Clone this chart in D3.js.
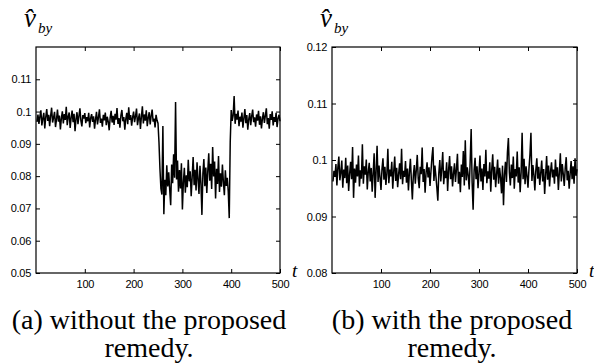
<!DOCTYPE html>
<html>
<head>
<meta charset="utf-8">
<script src="https://cdn.jsdelivr.net/npm/d3@7"></script>
<style>
  body { margin: 0; background: #fff; }
  .tick text { font-family: "Liberation Sans", Arial, sans-serif; font-size: 11px; fill: #000; letter-spacing: -0.3px; }
  .tick line { stroke: #000; }
</style>
</head>
<body>
<script>
// sample spacing of the estimator (t = 2, 4, ..., 500)
var tStep = 2;

// (a) without the proposed remedy: v_by estimate
var vbyWithout = [
  0.0968, 0.0991, 0.0962, 0.0985, 0.1004, 0.0957, 0.0979, 0.0996, 0.0948, 0.0983, 0.1008, 0.0971, 0.0990, 0.0955, 0.0987, 0.1012, 0.0966, 0.0981, 0.0999, 0.0952, 0.0976, 0.1006, 0.0969, 0.0988, 0.0945,
  0.0979, 0.1001, 0.0963, 0.0992, 0.0974, 0.1015, 0.0958, 0.0984, 0.0997, 0.0949, 0.0981, 0.1003, 0.0967, 0.0993, 0.0939, 0.0977, 0.0998, 0.0961, 0.0986, 0.1010, 0.0972, 0.0954, 0.0989, 0.0978, 0.0995,
  0.0964, 0.0983, 0.0970, 0.0996, 0.0951, 0.0980, 0.0992, 0.0968, 0.0985, 0.0947, 0.0976, 0.0999, 0.0960, 0.0982, 0.1007, 0.0965, 0.0978, 0.0953, 0.0990, 0.0973, 0.0997, 0.0958, 0.0984, 0.0969, 0.0942,
  0.0981, 0.1002, 0.0966, 0.0987, 0.0959, 0.0993, 0.0975, 0.1011, 0.0962, 0.0980, 0.0950, 0.0988, 0.1005, 0.0970, 0.0983, 0.0944, 0.0977, 0.0996, 0.0961, 0.1013, 0.0974, 0.0989, 0.0956, 0.0982, 0.1000,
  0.0967, 0.0986, 0.1009, 0.0958, 0.0979, 0.0994, 0.0946, 0.0984, 0.1016, 0.0963, 0.0991, 0.0972, 0.1004, 0.0955, 0.0981, 0.0998, 0.0960, 0.0987, 0.1006, 0.0969, 0.0978, 0.0951, 0.0990, 0.0973, 0.0964,
  0.0905, 0.0822, 0.0761, 0.0743, 0.0955, 0.0682, 0.0789, 0.0741, 0.0834, 0.0768, 0.0812, 0.0757, 0.0710, 0.0836, 0.0778, 0.0868, 0.0795, 0.1030, 0.0790, 0.0848, 0.0752, 0.0819, 0.0762, 0.0840, 0.0697,
  0.0781, 0.0826, 0.0749, 0.0803, 0.0766, 0.0851, 0.0784, 0.0815, 0.0738, 0.0797, 0.0859, 0.0772, 0.0820, 0.0756, 0.0843, 0.0790, 0.0745, 0.0832, 0.0779, 0.0680, 0.0808, 0.0853, 0.0769, 0.0827, 0.0748,
  0.0815, 0.0871, 0.0786, 0.0838, 0.0760, 0.0890, 0.0799, 0.0845, 0.0731, 0.0823, 0.0776, 0.0862, 0.0751, 0.0809, 0.0767, 0.0836, 0.0782, 0.0741, 0.0818, 0.0770, 0.0795, 0.0752, 0.0670, 0.0905, 0.1005,
  0.0971, 0.0988, 0.1048, 0.0962, 0.0993, 0.0975, 0.1003, 0.0955, 0.0984, 0.0969, 0.0997, 0.0950, 0.0980, 0.1008, 0.0964, 0.0989, 0.0944, 0.0977, 0.0995, 0.0958, 0.0986, 0.1006, 0.0967, 0.0982, 0.0953,
  0.0991, 0.0972, 0.1002, 0.0959, 0.0985, 0.0948, 0.0978, 0.0998, 0.0965, 0.0987, 0.1010, 0.0961, 0.0980, 0.0947, 0.0992, 0.0974, 0.1001, 0.0957, 0.0983, 0.0968, 0.0996, 0.0952, 0.0979, 0.0990, 0.0970
];

// (b) with the proposed remedy
var vbyWith = [
  0.0962, 0.0981, 0.0970, 0.0993, 0.0955, 0.0987, 0.1006, 0.0964, 0.0978, 0.0999, 0.0951, 0.0983, 0.0968, 0.1004, 0.0959, 0.0990, 0.0945, 0.0976, 0.0997, 0.0966, 0.1023, 0.0933, 0.0985, 0.0960, 0.0992,
  0.0971, 0.1008, 0.0953, 0.0982, 0.0967, 0.1028, 0.0958, 0.0989, 0.0974, 0.1001, 0.0948, 0.0979, 0.0995, 0.0962, 0.0986, 0.0944, 0.0977, 0.1012, 0.0933, 0.0980, 0.1025, 0.0961, 0.0990, 0.0969, 0.0947,
  0.0984, 0.1003, 0.0965, 0.0988, 0.0956, 0.0976, 0.1020, 0.0959, 0.0983, 0.0971, 0.0997, 0.0949, 0.0980, 0.1006, 0.0963, 0.0986, 0.0952, 0.0975, 0.0994, 0.0966, 0.1020, 0.0957, 0.0981, 0.0970, 0.0998,
  0.0960, 0.0985, 0.0946, 0.0979, 0.1002, 0.0964, 0.0930, 0.0973, 0.0991, 0.0958, 0.0982, 0.1009, 0.0967, 0.0950, 0.0988, 0.0975, 0.1022, 0.0961, 0.0984, 0.0942, 0.0978, 0.0996, 0.0969, 0.0987, 0.0954,
  0.0980, 0.1005, 0.1023, 0.0963, 0.0990, 0.0972, 0.0951, 0.0928, 0.0977, 0.1000, 0.0962, 0.0985, 0.1014, 0.0957, 0.0981, 0.0968, 0.0996, 0.0945, 0.0983, 0.1007, 0.0966, 0.0989, 0.0953, 0.0976, 0.0994,
  0.0961, 0.0984, 0.1011, 0.0958, 0.0979, 0.0943, 0.0992, 0.0970, 0.1016, 0.0955, 0.1035, 0.0964, 0.0987, 0.0973, 0.0948, 0.0998, 0.1055, 0.0960, 0.0912, 0.0982, 0.1004, 0.0966, 0.0989, 0.0950, 0.0977,
  0.1008, 0.0962, 0.0985, 0.0947, 0.0993, 0.0971, 0.1018, 0.0959, 0.0980, 0.0967, 0.0996, 0.0944, 0.0983, 0.1010, 0.0965, 0.0988, 0.0952, 0.0976, 0.1001, 0.0958, 0.0986, 0.0969, 0.0941, 0.0990, 0.0920,
  0.0974, 0.0997, 0.0961, 0.1013, 0.1039, 0.0978, 0.0955, 0.0992, 0.0968, 0.1006, 0.0949, 0.0984, 0.0971, 0.1015, 0.0960, 0.0987, 0.0943, 0.0979, 0.1048, 0.0966, 0.1002, 0.0957, 0.0989, 0.0972, 0.0951,
  0.0985, 0.1010, 0.1048, 0.0963, 0.0991, 0.0974, 0.0946, 0.0982, 0.1003, 0.0967, 0.0988, 0.0956, 0.0977, 0.0999, 0.0962, 0.0984, 0.0940, 0.0973, 0.1007, 0.0965, 0.0990, 0.0953, 0.0980, 0.0996, 0.0969,
  0.0983, 0.0958, 0.1001, 0.0971, 0.0987, 0.0947, 0.0978, 0.1012, 0.0962, 0.0993, 0.0975, 0.0954, 0.0986, 0.1005, 0.0964, 0.0981, 0.0949, 0.0976, 0.0998, 0.0966, 0.0989, 0.0958, 0.1003, 0.0972, 0.0984
];

// axis ticks and labels
var xTicks = [100, 200, 300, 400, 500];
var yTicksA = [0.05, 0.06, 0.07, 0.08, 0.09, 0.1, 0.11];
var yTicksB = [0.08, 0.09, 0.1, 0.11, 0.12];
var yDomainA = [0.05, 0.12];
var yDomainB = [0.08, 0.12];
var tDomain = [0, 500];
var captionsA = ["(a) without the proposed", "remedy."];
var captionsB = ["(b) with the proposed", "remedy."];

var serifFont = "'Liberation Serif'";

var svg = d3.select("body").append("svg")
    .attr("width", 594).attr("height", 364);

function drawPanel(left, top, w, h, values, yDomain, yTicks, caption, capX) {
    var x = d3.scaleLinear().domain(tDomain).range([0, w]);
    var y = d3.scaleLinear().domain(yDomain).range([h, 0]);
    var fmt = function(d) { return String(+d.toFixed(2)); };

    var g = svg.append("g")
        .attr("transform", "translate(" + left + "," + top + ")");

    // data line
    var line = d3.line()
        .x(function(d, i) { return x((i + 1) * tStep); })
        .y(function(d) { return y(d); });
    g.append("path")
        .datum(values)
        .attr("d", line)
        .attr("fill", "none")
        .attr("stroke", "#000")
        .attr("stroke-width", 1.5);

    // ticks pointing inwards on all four sides (matlab box)
    g.append("g").attr("transform", "translate(0," + h + ")")
        .call(d3.axisBottom(x).tickValues(xTicks).tickSizeInner(-4).tickSizeOuter(0).tickPadding(7))
        .call(function(a) { a.select(".domain").remove(); });
    g.append("g")
        .call(d3.axisTop(x).tickValues(xTicks).tickSizeInner(-4).tickSizeOuter(0).tickFormat(""))
        .call(function(a) { a.select(".domain").remove(); });
    g.append("g")
        .call(d3.axisLeft(y).tickValues(yTicks).tickFormat(fmt).tickSizeInner(-4).tickSizeOuter(0).tickPadding(5))
        .call(function(a) { a.select(".domain").remove(); });
    g.append("g").attr("transform", "translate(" + w + ",0)")
        .call(d3.axisRight(y).tickValues(yTicks).tickSizeInner(-4).tickSizeOuter(0).tickFormat(""))
        .call(function(a) { a.select(".domain").remove(); });

    g.append("rect")
        .attr("width", w).attr("height", h)
        .attr("fill", "none").attr("stroke", "#000").attr("stroke-width", 1.2);

    // y label: v-hat with subscript by
    var lab = g.append("text")
        .style("font-family", serifFont).style("font-style", "italic")
        .attr("x", -12).attr("y", -20);
    lab.append("tspan").style("font-size", "27px").text("v\u0302");
    lab.append("tspan").style("font-size", "15px").attr("dx", 2).attr("dy", 6).text("by");

    // x label
    g.append("text")
        .style("font-family", serifFont).style("font-style", "italic")
        .style("font-size", "19px")
        .attr("x", w + 12).attr("y", h + 4)
        .text("t");

    // caption under the panel
    svg.selectAll(null).data(caption).enter().append("text")
        .style("font-family", serifFont).style("font-size", "28px")
        .attr("x", capX)
        .attr("y", function(d, i) { return 329 + i * 28; })
        .attr("text-anchor", "middle")
        .text(function(d) { return d; });
}

drawPanel(36, 47, 244, 226, vbyWithout, yDomainA, yTicksA, captionsA, 149);
drawPanel(332, 47, 245, 226, vbyWith, yDomainB, yTicksB, captionsB, 452);
</script>
</body>
</html>
